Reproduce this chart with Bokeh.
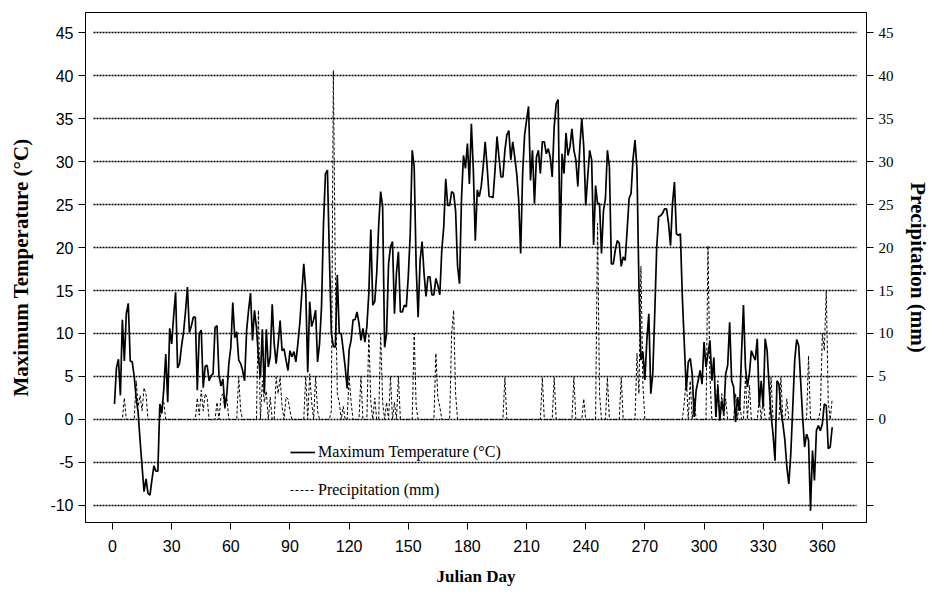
from bokeh.plotting import figure
from bokeh.models import (LinearAxis, FixedTicker, Legend, LegendItem, Range1d,
                          CustomJSTickFormatter)
from bokeh.embed import file_html
from bokeh.resources import INLINE

# ---------------- data ----------------
temp_max = [
    1.8, 6.0, 7.0, 2.8, 11.6, 6.8, 12.3, 13.5, 6.8, 6.7,
    5.0, 2.5, 0.8, -2.5, -5.5, -8.4, -6.9, -8.6, -8.8, -7.0,
    -5.4, -6.0, -6.0, 1.8, 0.7, 3.5, 7.6, 2.0, 10.6, 8.8,
    12.0, 14.8, 6.0, 6.5, 8.5, 10.1, 12.5, 15.4, 10.1, 10.9,
    11.9, 11.9, 3.4, 10.0, 10.4, 3.7, 6.2, 6.3, 4.5, 5.1,
    5.3, 10.7, 10.9, 5.1, 3.9, 4.7, 1.4, 3.0, 6.5, 8.4,
    13.6, 9.5, 10.2, 6.9, 6.5, 5.7, 4.5, 10.3, 12.7, 14.7,
    9.2, 12.7, 10.7, 7.3, 4.9, 10.5, 3.0, 10.5, 6.1, 7.3,
    13.4, 8.8, 6.5, 8.8, 11.5, 8.0, 8.2, 6.9, 5.7, 8.0,
    7.3, 7.9, 6.7, 8.8, 11.2, 14.7, 18.1, 15.0, 5.5, 13.7,
    10.8, 11.6, 12.7, 6.7, 8.8, 13.1, 22.8, 28.6, 29.0, 18.9,
    10.0, 8.5, 8.4, 16.8, 10.0, 10.0, 8.1, 6.1, 3.6, 8.1,
    9.2, 11.6, 11.6, 12.5, 11.2, 9.2, 10.6, 9.0, 10.8, 14.7,
    22.1, 13.3, 13.7, 17.0, 22.6, 26.5, 24.7, 8.4, 10.0, 18.1,
    20.1, 20.7, 12.3, 17.0, 19.5, 12.5, 12.5, 13.3, 13.1, 16.6,
    21.6, 31.3, 29.4, 17.8, 11.9, 18.5, 20.7, 17.0, 14.3, 16.6,
    16.6, 14.5, 14.5, 16.4, 15.6, 14.5, 19.7, 22.4, 28.0, 24.9,
    24.9, 26.5, 26.3, 24.3, 17.8, 15.8, 25.7, 30.7, 29.2, 32.1,
    27.4, 34.4, 29.0, 20.8, 26.7, 25.9, 27.1, 29.4, 32.3, 29.4,
    25.9, 25.9, 25.8, 29.0, 32.9, 30.5, 28.2, 28.2, 31.3, 33.1,
    33.6, 30.2, 32.3, 30.5, 28.6, 25.5, 19.3, 28.6, 33.1, 34.8,
    36.4, 27.8, 31.3, 25.1, 30.5, 31.3, 28.6, 32.3, 32.3, 30.9,
    31.5, 30.5, 28.2, 34.0, 36.7, 37.2, 20.0, 30.9, 28.6, 33.3,
    30.7, 31.7, 33.8, 31.3, 30.2, 27.1, 31.7, 35.0, 31.7, 24.9,
    28.2, 31.3, 30.2, 20.3, 27.2, 25.1, 25.1, 19.3, 24.3, 25.7,
    31.3, 29.4, 18.1, 18.1, 19.7, 20.8, 20.5, 17.8, 18.9, 18.5,
    22.0, 25.7, 26.3, 30.3, 32.5, 29.0, 15.4, 6.9, 7.9, 4.6,
    9.2, 12.3, 3.0, 5.3, 12.3, 20.0, 23.6, 23.7, 24.0, 24.5,
    24.5, 22.8, 20.2, 25.1, 27.6, 21.6, 21.4, 21.6, 14.2, 8.8,
    3.4, 6.7, 7.1, 5.3, 0.3, 3.4, 4.5, 5.7, 4.1, 9.0,
    6.1, 7.6, 9.2, 4.5, 7.2, 0.3, 3.8, -0.1, 2.2, 0.7,
    5.3, 6.3, 11.3, 4.5, 3.8, -0.3, 2.6, 1.0, 7.6, 13.3,
    6.1, 3.8, 5.3, 8.0, 7.4, 6.9, 9.4, 1.6, 4.5, 1.4,
    9.4, 8.0, 3.8, 0.5, -1.7, -4.8, 4.5, 4.1, 1.0, -0.5,
    -2.4, -5.5, -7.5, -4.0, 1.4, 6.9, 9.3, 8.6, 4.5, 0.3,
    -3.2, -1.7, -2.4, -10.6, -3.6, -7.1, -1.3, -0.7, -1.3, -0.5,
    1.8, 1.6, -3.4, -3.2, -0.9,
]

precip_mm = [
    0, 0, 0, 0, 0, 2.5, 0, 0, 0, 0,
    0, 4.5, 1.5, 2.8, 1.0, 3.7, 2.9, 0, 0, 0,
    0, 0, 0, 0, 1.5, 2.0, 0, 0, 0, 0,
    0, 0, 0, 0, 0, 0, 0, 0, 0, 0,
    0, 0, 2.5, 0.5, 3.4, 1.0, 3.0, 2.5, 0, 0,
    0, 0, 2.0, 0, 2.6, 3.0, 1.2, 2.5, 0, 0,
    0, 0, 0, 5.0, 1.0, 0, 0, 0, 0, 0,
    0, 0, 0, 12.7, 0, 4.5, 2.0, 3.3, 0, 2.6,
    0, 0, 4.9, 3.0, 4.9, 1.5, 0, 2.6, 2.4, 1.0,
    0, 0, 0, 0, 0, 0, 0, 5.0, 0, 5.3,
    2.0, 0, 5.0, 1.0, 0, 0, 0, 0, 0, 0,
    1.0, 40.6, 17.0, 3.0, 2.0, 0, 1.5, 0, 0, 5.0,
    2.0, 0, 0, 0, 0, 5.0, 0, 0, 0, 10.0,
    2.0, 0, 2.5, 0, 0, 10.0, 2.0, 0, 2.0, 0,
    5.0, 0, 2.0, 0, 5.0, 0, 0, 0, 0, 0,
    0, 0, 10.0, 1.5, 0, 0, 0, 0, 0, 0,
    0, 0, 0, 7.7, 2.5, 1.5, 0, 0, 0, 0,
    0, 10.0, 12.7, 3.0, 0, 0, 0, 0, 0, 0,
    0, 0, 0, 0, 0, 0, 0, 0, 0, 0,
    0, 0, 0, 0, 0, 0, 0, 0, 4.9, 0,
    0, 0, 0, 0, 0, 0, 0, 0, 0, 0,
    0, 0, 0, 0, 0, 0, 0, 4.9, 0, 0,
    0, 0, 0, 4.9, 0, 0, 0, 0, 0, 0,
    0, 0, 0, 4.9, 0, 0, 0, 0, 2.4, 0,
    0, 0, 0, 0, 0, 22.8, 3.0, 0, 0, 0,
    4.9, 0, 0, 0, 0, 0, 0, 4.9, 0, 0,
    0, 0, 0, 0, 0, 7.7, 3.0, 17.8, 4.0, 0,
    0, 0, 0, 0, 0, 0, 0, 0, 0, 0,
    0, 0, 0, 0, 0, 0, 0, 0, 0, 2.0,
    4.9, 0, 4.5, 0, 2.5, 0, 0, 0, 0, 0,
    0, 20.2, 5.0, 0, 0, 0, 4.5, 0, 3.0, 0,
    2.4, 0, 0, 0, 0, 3.0, 0, 2.4, 0, 0,
    4.9, 0, 4.0, 0, 0, 0, 0, 2.4, 0, 2.4,
    0, 0, 0, 4.9, 0, 0, 0, 0, 4.9, 0,
    0, 2.4, 0, 0, 0, 0, 0, 0, 0, 0,
    0, 0, 7.4, 0, 0, 0, 0, 0, 1.0, 10.0,
    8.0, 15.0, 2.0, 0, 2.4,
]

days = list(range(1, len(temp_max) + 1))
x_ticks = [0, 30, 60, 90, 120, 150, 180, 210, 240, 270, 300, 330, 360]
y_ticks = [-10, -5, 0, 5, 10, 15, 20, 25, 30, 35, 40, 45]

# ---------------- figure ----------------
p = figure(width=933, height=596,
           x_range=Range1d(-13.7, 382.4), y_range=Range1d(-11.98, 47.33),
           output_backend="svg", toolbar_location=None,
           min_border_left=85, min_border_right=67,
           min_border_top=12, min_border_bottom=74)
p.background_fill_color = "white"
p.border_fill_color = "white"
p.outline_line_color = "black"
p.outline_line_width = 1
p.outline_line_alpha = 1

p.xgrid.visible = False
p.ygrid.ticker = FixedTicker(ticks=y_ticks)
p.ygrid.grid_line_color = "black"
p.ygrid.grid_line_width = 1.5
p.ygrid.grid_line_dash = "2 1"
p.ygrid.cross_bounds = (-9.5, 377.5)

r_prec = p.line(days, precip_mm, line_color="black", line_width=1,
                line_dash="3 2")
r_temp = p.line(days, temp_max, line_color="black", line_width=1.7)

# axes
xa = p.xaxis[0]
xa.ticker = FixedTicker(ticks=x_ticks)
xa.axis_label = "Julian Day"
ya = p.yaxis[0]
ya.ticker = FixedTicker(ticks=y_ticks)
ya.axis_label = "Maximum Temperature (°C)"
ya.formatter = CustomJSTickFormatter(code="return tick.toString();")

ra = LinearAxis(ticker=FixedTicker(ticks=y_ticks),
                axis_label="Precipitation (mm)",
                formatter=CustomJSTickFormatter(
                    code="return tick < 0 ? '' : tick.toString();"))
p.add_layout(ra, "right")

for ax in (xa, ya, ra):
    ax.axis_line_color = "black"
    ax.major_tick_line_color = "black"
    ax.major_tick_out = 7
    ax.major_tick_in = 0
    ax.minor_tick_line_color = None
    ax.major_label_text_color = "black"
    ax.axis_label_text_color = "black"
    ax.axis_label_text_font = "Liberation Serif"
    ax.axis_label_text_font_style = "bold"

for ax in (xa, ya):
    ax.major_label_text_font = "Liberation Sans"
    ax.major_label_text_font_size = "16px"
ra.major_label_text_font = "Liberation Serif"
ra.major_label_text_font_size = "15px"

xa.major_label_standoff = 10
xa.axis_label_text_font_size = "17px"
xa.axis_label_standoff = 12
ya.major_label_standoff = 5
ya.axis_label_text_font_size = "21px"
ya.axis_label_standoff = 14
ra.major_label_standoff = 5
ra.axis_label_text_font_size = "21px"
ra.axis_label_standoff = 9

legend = Legend(items=[
    LegendItem(label="Maximum Temperature (°C)", renderers=[r_temp]),
    LegendItem(label="Precipitation (mm)", renderers=[r_prec]),
], location=(205, 22))
legend.background_fill_alpha = 0
legend.border_line_color = None
legend.label_text_font = "Liberation Serif"
legend.label_text_font_size = "16px"
legend.label_text_color = "black"
legend.glyph_width = 25
legend.glyph_height = 20
legend.label_height = 20
legend.label_standoff = 3
legend.spacing = 18
legend.padding = 10
legend.margin = 0
p.add_layout(legend)

open("out.html", "w").write(file_html(p, INLINE))
